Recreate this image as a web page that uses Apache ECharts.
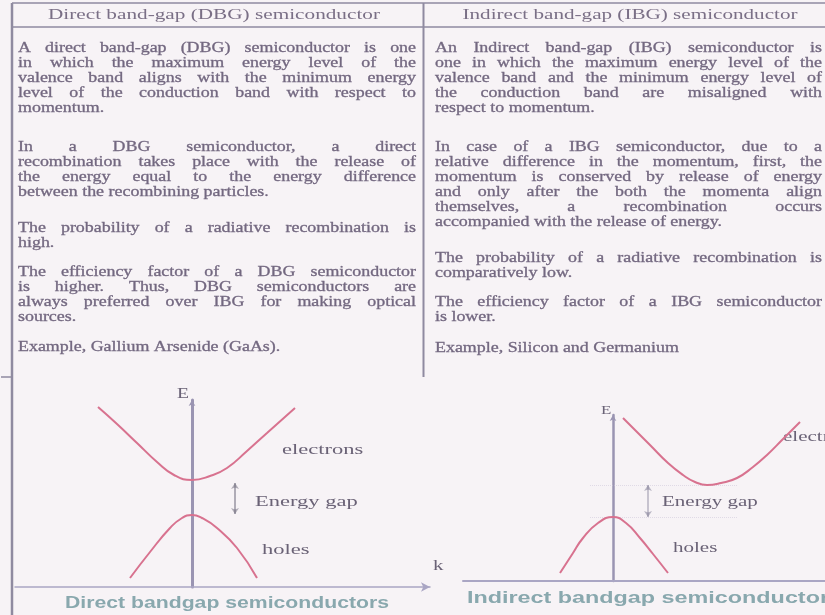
<!DOCTYPE html>
<html>
<head>
<meta charset="utf-8">
<title>Direct vs indirect band-gap semiconductors</title>
<script src="https://cdn.jsdelivr.net/npm/echarts@6/dist/echarts.min.js"></script>
<style>
  html, body { margin: 0; padding: 0; background: #f7f3f6; }
  #chart { width: 825px; height: 615px; }
</style>
</head>
<body>
<div id="chart"></div>
<script>
// ---- table text ----
const dbgHeader = 'Direct band-gap (DBG) semiconductor'
const ibgHeader = 'Indirect band-gap (IBG) semiconductor'

const dbgParas = [
  ['A direct band-gap (DBG) semiconductor is one', 'in which the maximum energy level of the', 'valence band aligns with the minimum energy', 'level of the conduction band with respect to', 'momentum.'],
  ['In a DBG semiconductor, a direct', 'recombination takes place with the release of', 'the energy equal to the energy difference', 'between the recombining particles.'],
  ['The probability of a radiative recombination is', 'high.'],
  ['The efficiency factor of a DBG semiconductor', 'is higher. Thus, DBG semiconductors are', 'always preferred over IBG for making optical', 'sources.'],
  ['Example, Gallium Arsenide (GaAs).']
]
const ibgParas = [
  ['An Indirect band-gap (IBG) semiconductor is', 'one in which the maximum energy level of the', 'valence band and the minimum energy level of', 'the conduction band are misaligned with', 'respect to momentum.'],
  ['In case of a IBG semiconductor, due to a', 'relative difference in the momentum, first, the', 'momentum is conserved by release of energy', 'and only after the both the momenta align', 'themselves, a recombination occurs', 'accompanied with the release of energy.'],
  ['The probability of a radiative recombination is', 'comparatively low.'],
  ['The efficiency factor of a IBG semiconductor', 'is lower.'],
  ['Example, Silicon and Germanium']
]

// ---- band diagrams (k, E) ----
const directElecK = [-0.94, -0.75, -0.55, -0.35, -0.18, 0, 0.18, 0.35, 0.55, 0.75, 1.03]
const directElecE = [1.80, 1.63, 1.44, 1.25, 1.12, 1.07, 1.11, 1.19, 1.36, 1.54, 1.79]
const directHoleK = [-0.62, -0.42, -0.22, -0.10, 0, 0.10, 0.25, 0.45, 0.65]
const directHoleE = [0.09, 0.35, 0.59, 0.69, 0.72, 0.69, 0.59, 0.39, 0.09]
const directGapK = 0.43
const directGapE = [1.04, 0.73]

const indirectElecK = [0.10, 0.37, 0.55, 0.70, 0.82, 0.94, 1.08, 1.24, 1.40, 1.54, 1.70, 1.87]
const indirectElecE = [1.63, 1.36, 1.18, 1.06, 0.99, 0.96, 0.98, 1.03, 1.14, 1.26, 1.42, 1.59]
const indirectHoleK = [-0.53, -0.40, -0.30, -0.15, 0, 0.13, 0.27, 0.40, 0.55]
const indirectHoleE = [0.08, 0.28, 0.43, 0.58, 0.64, 0.58, 0.43, 0.27, 0.08]
const indirectGapK = 0.35
const indirectGapE = [0.96, 0.64]
const indirectLevelK = [-0.23, 1.24]

const captions = ['Direct bandgap semiconductors', 'Indirect bandgap semiconductor']

// ---- styles ----
const TEXT = '#736880'
const BORDER = '#8f8aa0'
const CURVE = '#d8728f'
const AXIS = '#9a94b2'
const SERIF = '"Liberation Serif", "Times New Roman", serif'
const TABLE_FONT = '14px ' + SERIF
const SX = 1.28

const ctx = document.createElement('canvas').getContext('2d')
function measure(str, font) {
  ctx.font = font
  return ctx.measureText(str).width
}

function word(str, x, y, sx, font, fill, bold) {
  const c = fill || TEXT
  return {
    type: 'text', x: x, y: y, scaleX: sx, silent: true,
    style: {
      text: str, font: font, fill: c, align: 'left', verticalAlign: 'middle',
      stroke: bold ? c : null, lineWidth: bold ? bold : 0
    }
  }
}

// one printed line, justified to the column width when asked
function textLine(str, x, y, w, justify) {
  const words = str.split(' ')
  if (!justify || words.length < 2) return [word(str, x, y, SX, TABLE_FONT, TEXT, 0.3)]
  const raw = words.map(wd => measure(wd, TABLE_FONT))
  const rawTotal = raw.reduce((a, b) => a + b, 0)
  const minGap = measure(' ', TABLE_FONT) * 0.8
  let sx = SX
  if (rawTotal * sx + minGap * (words.length - 1) > w) {
    sx = (w - minGap * (words.length - 1)) / rawTotal
  }
  const gap = (w - rawTotal * sx) / (words.length - 1)
  const out = []
  let cx = x
  words.forEach((wd, i) => {
    out.push(word(wd, cx, y, sx, TABLE_FONT, TEXT, 0.3))
    cx += raw[i] * sx + gap
  })
  return out
}

function column(paras, starts, x, w) {
  let els = []
  paras.forEach((lines, p) => {
    lines.forEach((ln, i) => {
      els = els.concat(textLine(ln, x, starts[p] + i * 15, w, i < lines.length - 1))
    })
  })
  return els
}

function hline(x1, x2, y, width, color) {
  return { type: 'line', silent: true, shape: { x1: x1, y1: y, x2: x2, y2: y }, style: { stroke: color || BORDER, lineWidth: width } }
}
function vline(x, y1, y2, width, color) {
  return { type: 'line', silent: true, shape: { x1: x, y1: y1, x2: x, y2: y2 }, style: { stroke: color || BORDER, lineWidth: width } }
}

// header text squeezed/stretched to the width it has in the scan
function header(str, cx, y, w) {
  const sx = w / measure(str, TABLE_FONT)
  return word(str, cx - w / 2, y, sx, TABLE_FONT, '#7a6f86', 0)
}

const CAP_FONT = 'bold 16px "Liberation Sans", Arial, sans-serif'
const capSX0 = 324 / measure(captions[0], CAP_FONT)
const capSX1 = 362 / measure(captions[1], CAP_FONT)
const LABEL = '#6a6276'

const graphics = [
  hline(12, 825, 3, 1.5),
  hline(12, 825, 27, 1.5),
  vline(12, 3, 615, 2.5),
  vline(423.5, 3, 377, 2),
  hline(1, 12, 377, 1.5),
  header(dbgHeader, 214, 15, 332),
  header(ibgHeader, 630, 15, 335)
]
  .concat(column(dbgParas, [48, 147, 228, 272, 347], 18, 398))
  .concat(column(ibgParas, [48, 147, 258, 302, 348], 435, 387))
  .concat([
    word('E', 177, 394, 1.4, '14px ' + SERIF, LABEL),
    word('k', 433, 566, 1.4, '15px ' + SERIF, LABEL),
    word('electrons', 282, 450, 1.5, '15px ' + SERIF, LABEL),
    word('Energy gap', 255, 502, 1.5, '15px ' + SERIF, LABEL),
    word('holes', 262, 550, 1.5, '15px ' + SERIF, LABEL),
    word('E', 601, 411, 1.3, '13px ' + SERIF, LABEL),
    word('electrons', 783, 437, 1.5, '14px ' + SERIF, LABEL),
    word('Energy gap', 662, 502, 1.5, '14px ' + SERIF, LABEL),
    word('holes', 673, 548, 1.5, '14px ' + SERIF, LABEL),
    word(captions[0], 65, 604, capSX0, CAP_FONT, '#89a8ae'),
    word(captions[1], 467, 599, capSX1, CAP_FONT, '#89a8ae')
  ])

function pairs(ks, es) {
  return ks.map((k, i) => [k, es[i]])
}

function curve(ks, es, axis) {
  return {
    type: 'line', xAxisIndex: axis, yAxisIndex: axis,
    data: pairs(ks, es), smooth: true, symbol: 'none', silent: true,
    lineStyle: { color: CURVE, width: 2 }
  }
}

function hiddenParts(extra) {
  return Object.assign({
    axisTick: { show: false },
    axisLabel: { show: false },
    splitLine: { show: false }
  }, extra)
}

const chart = echarts.init(document.getElementById('chart'), null, { renderer: 'canvas' })
chart.setOption({
  backgroundColor: '#f7f3f6',
  animation: false,
  grid: [
    { left: 15, top: 400, width: 415, height: 187 },
    { left: 463, top: 415, width: 362, height: 166 }
  ],
  xAxis: [
    hiddenParts({ type: 'value', gridIndex: 0, min: -1.77, max: 2.38,
      axisLine: { show: true, symbol: ['none', 'arrow'], symbolSize: [7, 9], lineStyle: { color: '#aaa6c4', width: 1.5 } } }),
    hiddenParts({ type: 'value', gridIndex: 1, min: -1.50, max: 2.12,
      axisLine: { show: true, lineStyle: { color: '#aaa6c4', width: 2 } } })
  ],
  yAxis: [
    hiddenParts({ type: 'value', gridIndex: 0, min: 0, max: 1.87,
      axisLine: { show: true, onZero: true, symbol: ['none', 'arrow'], symbolSize: [5, 6], lineStyle: { color: AXIS, width: 3 } } }),
    hiddenParts({ type: 'value', gridIndex: 1, min: 0, max: 1.66,
      axisLine: { show: true, onZero: true, symbol: ['none', 'arrow'], symbolSize: [5, 6], lineStyle: { color: AXIS, width: 2.5 } } })
  ],
  series: [
    curve(directElecK, directElecE, 0),
    curve(directHoleK, directHoleE, 0),
    curve(indirectElecK, indirectElecE, 1),
    curve(indirectHoleK, indirectHoleE, 1),
    {
      type: 'lines', coordinateSystem: 'cartesian2d', xAxisIndex: 1, yAxisIndex: 1, silent: true,
      data: indirectGapE.map(e => ({ coords: [[indirectLevelK[0], e], [indirectLevelK[1], e]] })),
      lineStyle: { color: '#c9c1d6', width: 1, type: 'dotted' }
    },
    {
      type: 'lines', coordinateSystem: 'cartesian2d', xAxisIndex: 0, yAxisIndex: 0, silent: true,
      symbol: ['arrow', 'arrow'], symbolSize: 6,
      data: [{ coords: [[directGapK, directGapE[0]], [directGapK, directGapE[1]]] }],
      lineStyle: { color: '#6a6578', width: 2 }
    },
    {
      type: 'lines', coordinateSystem: 'cartesian2d', xAxisIndex: 1, yAxisIndex: 1, silent: true,
      symbol: ['arrow', 'arrow'], symbolSize: 6,
      data: [{ coords: [[indirectGapK, indirectGapE[0]], [indirectGapK, indirectGapE[1]]] }],
      lineStyle: { color: '#7a7590', width: 1.5 }
    }
  ],
  graphic: graphics
})
</script>
</body>
</html>
